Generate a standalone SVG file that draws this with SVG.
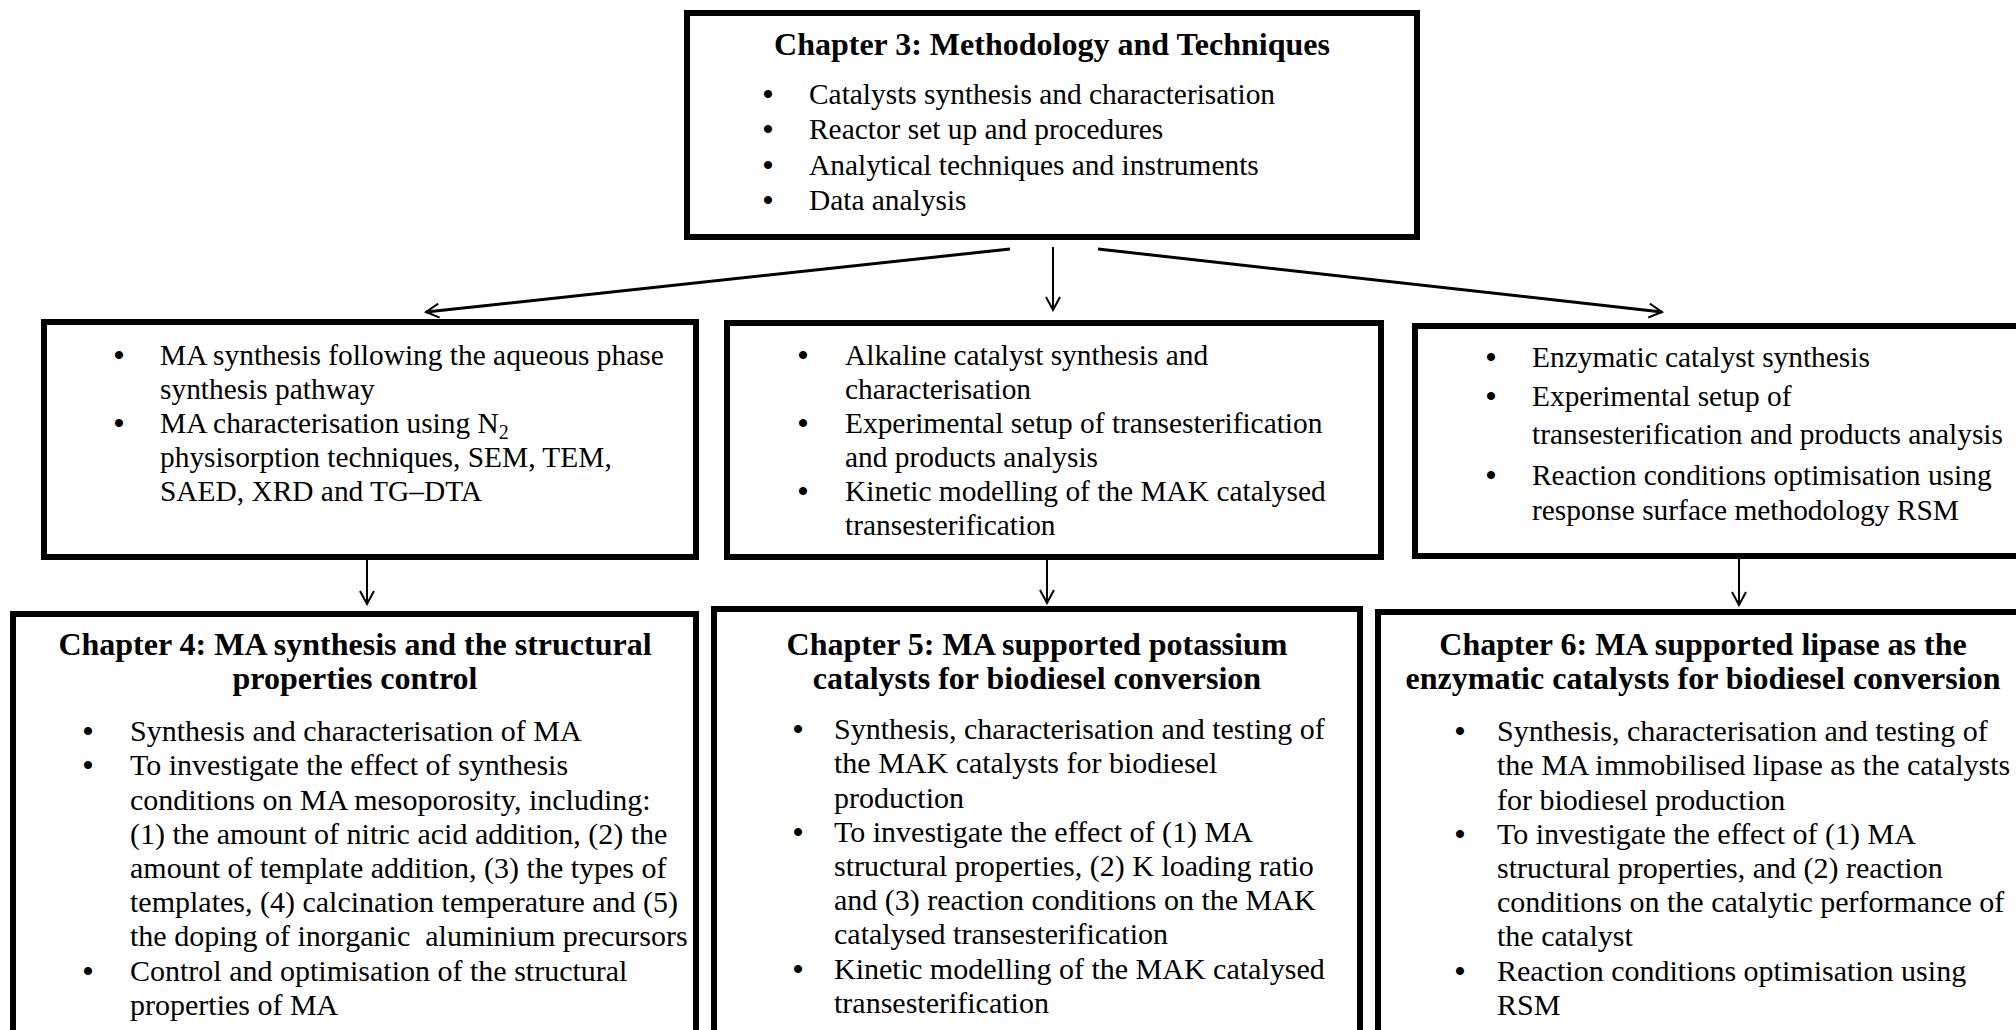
<svg xmlns="http://www.w3.org/2000/svg" width="2016" height="1030" viewBox="0 0 2016 1030">
<style>
.box{fill:#fff;stroke:#000;stroke-width:6}
.t{font-family:"Liberation Serif","Times New Roman",serif;font-size:29.4px;fill:#000}
.t2{font-family:"Liberation Serif","Times New Roman",serif;font-size:30px;fill:#000}
.h{font-family:"Liberation Serif","Times New Roman",serif;font-size:32px;font-weight:bold;fill:#000;text-anchor:middle}
.bl{font-family:"Liberation Serif","Times New Roman",serif;font-size:30px;font-weight:bold;fill:#000;text-anchor:middle}
.c{fill:none;stroke:#000}
</style>
<defs>
<marker id="ah" viewBox="0 0 16 16" refX="14" refY="8" markerWidth="16" markerHeight="16" markerUnits="userSpaceOnUse" orient="auto">
<path d="M1,1 L14,8 L1,15" fill="none" stroke="#000" stroke-width="2"/>
</marker>
</defs>
<rect width="2016" height="1030" fill="#fff"/>

<g id="connectors">
<line class="c" stroke-width="3" x1="1010" y1="249" x2="426" y2="312" marker-end="url(#ah)"/>
<line class="c" stroke-width="2" x1="1053" y1="247" x2="1053" y2="310" marker-end="url(#ah)"/>
<line class="c" stroke-width="3" x1="1098" y1="249" x2="1662" y2="312" marker-end="url(#ah)"/>
<line class="c" stroke-width="2" x1="367" y1="558" x2="367" y2="604" marker-end="url(#ah)"/>
<line class="c" stroke-width="2" x1="1047" y1="558" x2="1047" y2="603" marker-end="url(#ah)"/>
<line class="c" stroke-width="2" x1="1739" y1="558" x2="1739" y2="605" marker-end="url(#ah)"/>
</g>

<g id="ch3">
<rect class="box" x="687" y="13" width="730" height="224"/>
<text class="h" x="1052" y="55">Chapter 3: Methodology and Techniques</text>
<text class="bl" x="768" y="104">•</text><text class="t" x="809" y="104">Catalysts synthesis and characterisation</text>
<text class="bl" x="768" y="139">•</text><text class="t" x="809" y="139">Reactor set up and procedures</text>
<text class="bl" x="768" y="175">•</text><text class="t" x="809" y="175">Analytical techniques and instruments</text>
<text class="bl" x="768" y="210">•</text><text class="t" x="809" y="210">Data analysis</text>
</g>

<g id="methodA">
<rect class="box" x="44" y="322" width="652" height="235"/>
<text class="bl" x="119" y="365">•</text><text class="t" x="160" y="365">MA synthesis following the aqueous phase</text>
<text class="t" x="160" y="399">synthesis pathway</text>
<text class="bl" x="119" y="433">•</text><text class="t" x="160" y="433">MA characterisation using N<tspan font-size="20" dy="6">2</tspan></text>
<text class="t" x="160" y="467">physisorption techniques, SEM, TEM,</text>
<text class="t" x="160" y="501">SAED, XRD and TG–DTA</text>
</g>

<g id="methodB">
<rect class="box" x="727" y="323" width="654" height="234"/>
<text class="bl" x="803" y="365">•</text><text class="t" x="845" y="365">Alkaline catalyst synthesis and</text>
<text class="t" x="845" y="399">characterisation</text>
<text class="bl" x="803" y="433">•</text><text class="t" x="845" y="433">Experimental setup of transesterification</text>
<text class="t" x="845" y="467">and products analysis</text>
<text class="bl" x="803" y="501">•</text><text class="t" x="845" y="501">Kinetic modelling of the MAK catalysed</text>
<text class="t" x="845" y="535">transesterification</text>
</g>

<g id="methodC">
<rect class="box" x="1415" y="326" width="620" height="230"/>
<text class="bl" x="1491" y="367">•</text><text class="t" x="1532" y="367">Enzymatic catalyst synthesis</text>
<text class="bl" x="1491" y="406">•</text><text class="t" x="1532" y="406">Experimental setup of</text>
<text class="t" x="1532" y="444">transesterification and products analysis</text>
<text class="bl" x="1491" y="485">•</text><text class="t" x="1532" y="485">Reaction conditions optimisation using</text>
<text class="t" x="1532" y="520">response surface methodology RSM</text>
</g>

<g id="ch4">
<rect class="box" x="13" y="614" width="683" height="440"/>
<text class="h" x="355" y="655">Chapter 4: MA synthesis and the structural</text>
<text class="h" x="355" y="689">properties control</text>
<text class="bl" x="88" y="741">•</text><text class="t2" x="130" y="741">Synthesis and characterisation of MA</text>
<text class="bl" x="88" y="775">•</text><text class="t2" x="130" y="775">To investigate the effect of synthesis</text>
<text class="t2" x="130" y="810">conditions on MA mesoporosity, including:</text>
<text class="t2" x="130" y="844">(1) the amount of nitric acid addition, (2) the</text>
<text class="t2" x="130" y="878">amount of template addition, (3) the types of</text>
<text class="t2" x="130" y="912">templates, (4) calcination temperature and (5)</text>
<text class="t2" x="130" y="946" xml:space="preserve">the doping of inorganic  aluminium precursors</text>
<text class="bl" x="88" y="981">•</text><text class="t2" x="130" y="981">Control and optimisation of the structural</text>
<text class="t2" x="130" y="1015">properties of MA</text>
</g>

<g id="ch5">
<rect class="box" x="714" y="609" width="646" height="445"/>
<text class="h" x="1037" y="655">Chapter 5: MA supported potassium</text>
<text class="h" x="1037" y="689">catalysts for biodiesel conversion</text>
<text class="bl" x="798" y="739">•</text><text class="t2" x="834" y="739">Synthesis, characterisation and testing of</text>
<text class="t2" x="834" y="773">the MAK catalysts for biodiesel</text>
<text class="t2" x="834" y="808">production</text>
<text class="bl" x="798" y="842">•</text><text class="t2" x="834" y="842">To investigate the effect of (1) MA</text>
<text class="t2" x="834" y="876">structural properties, (2) K loading ratio</text>
<text class="t2" x="834" y="910">and (3) reaction conditions on the MAK</text>
<text class="t2" x="834" y="944">catalysed transesterification</text>
<text class="bl" x="798" y="979">•</text><text class="t2" x="834" y="979">Kinetic modelling of the MAK catalysed</text>
<text class="t2" x="834" y="1013">transesterification</text>
</g>

<g id="ch6">
<rect class="box" x="1378" y="612" width="660" height="442"/>
<text class="h" x="1703" y="655">Chapter 6: MA supported lipase as the</text>
<text class="h" x="1703" y="689">enzymatic catalysts for biodiesel conversion</text>
<text class="bl" x="1460" y="741">•</text><text class="t2" x="1497" y="741">Synthesis, characterisation and testing of</text>
<text class="t2" x="1497" y="775">the MA immobilised lipase as the catalysts</text>
<text class="t2" x="1497" y="810">for biodiesel production</text>
<text class="bl" x="1460" y="844">•</text><text class="t2" x="1497" y="844">To investigate the effect of (1) MA</text>
<text class="t2" x="1497" y="878">structural properties, and (2) reaction</text>
<text class="t2" x="1497" y="912">conditions on the catalytic performance of</text>
<text class="t2" x="1497" y="946">the catalyst</text>
<text class="bl" x="1460" y="981">•</text><text class="t2" x="1497" y="981">Reaction conditions optimisation using</text>
<text class="t2" x="1497" y="1015">RSM</text>
</g>
</svg>
